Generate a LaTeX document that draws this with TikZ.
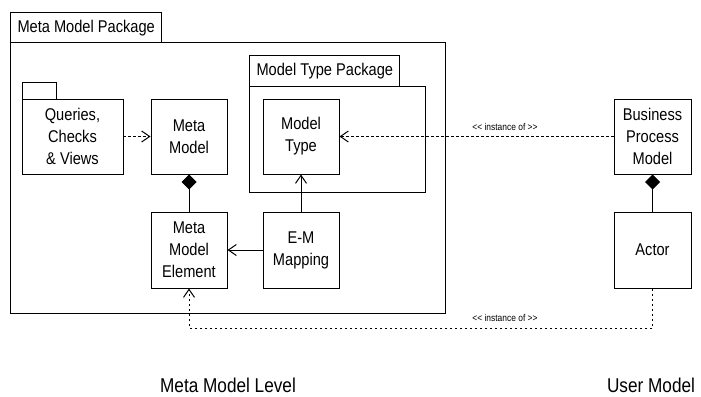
\documentclass[tikz,border=0pt]{standalone}
\usepackage{fontspec}
\setmainfont{Liberation Sans}[FakeStretch=0.86]
\usetikzlibrary{arrows.meta}
\begin{document}
\begin{tikzpicture}[x=1pt,y=-1pt,
  line width=1pt,
  lbl/.style={font=\fontsize{17}{22}\selectfont,align=center},
  small/.style={font=\fontsize{9.8}{11}\selectfont,inner sep=0pt},
  big/.style={font=\fontsize{20}{24}\selectfont,inner sep=0pt},
  dsh/.style={dash pattern=on 2.5pt off 2.5pt},
  openarr/.style={-{Straight Barb[length=8pt,width=11pt,line width=1pt]}},
  comp/.style={{Diamond[length=15pt,width=15pt]}-},
]
\useasboundingbox (0,0) rectangle (701,396);
% Meta Model Package
\draw (10,13) rectangle (161,43);
\node[lbl,anchor=west,inner sep=0pt] (mmpt) at (17,28) {Meta Model Package};
\draw (10,43) rectangle (445,313);
% Queries folder
\draw (22,82) rectangle (56,99);
\draw (22,99) rectangle (123,174);
\node[lbl] (q) at (72.5,136.5) {Queries,\\Checks\\\& Views};
\coordinate (qe) at (123,136.5);
% Meta Model
\node[draw,lbl,minimum width=76pt,minimum height=75pt,inner sep=0pt] (mm) at (189,136.5) {Meta\\Model};
% Model Type Package
\draw (249,56) rectangle (399,86);
\node[lbl,anchor=west,inner sep=0pt] (mtpt) at (256,71) {Model Type Package};
\draw (249,86) rectangle (425,192);
\node[draw,lbl,minimum width=76pt,minimum height=75pt,inner sep=0pt] (mt) at (301,136.5) {Model\\Type};
% Meta Model Element
\node[draw,lbl,minimum width=76pt,minimum height=76pt,inner sep=0pt] (mme) at (189,250) {Meta\\Model\\Element};
% E-M Mapping
\node[draw,lbl,minimum width=76pt,minimum height=76pt,inner sep=0pt] (em) at (301,250) {E-M\\Mapping};
% User model
\node[draw,lbl,minimum width=77pt,minimum height=75pt,inner sep=0pt] (bpm) at (652.5,136.5) {Business\\Process\\Model};
\node[draw,lbl,minimum width=77pt,minimum height=76pt,inner sep=0pt] (act) at (652.5,250) {Actor};
% connectors
\draw[dsh,openarr] (qe) -- (mm.west);
\draw[comp] (mm.south) -- (mme.north);
\draw[openarr] (em.west) -- (mme.east);
\draw[openarr] (em.north) -- (mt.south);
\draw[comp] (bpm.south) -- (act.north);
\draw[dsh,openarr] (bpm.west) -- (mt.east);
\node[small] (l1) at (505,127) {<\kern0pt< instance of >\kern0pt>};
\coordinate (c1) at (652.5,328);
\coordinate (c2) at (189,328);
\draw[dsh,openarr] (act.south) -- (c1) -- (c2) -- (mme.south);
\node[small] (l2) at (505,318) {<\kern0pt< instance of >\kern0pt>};
% level labels
\node[big] (lev1) at (228,385) {Meta Model Level};
\node[big] (lev2) at (651,385) {User Model};
\end{tikzpicture}
\end{document}
